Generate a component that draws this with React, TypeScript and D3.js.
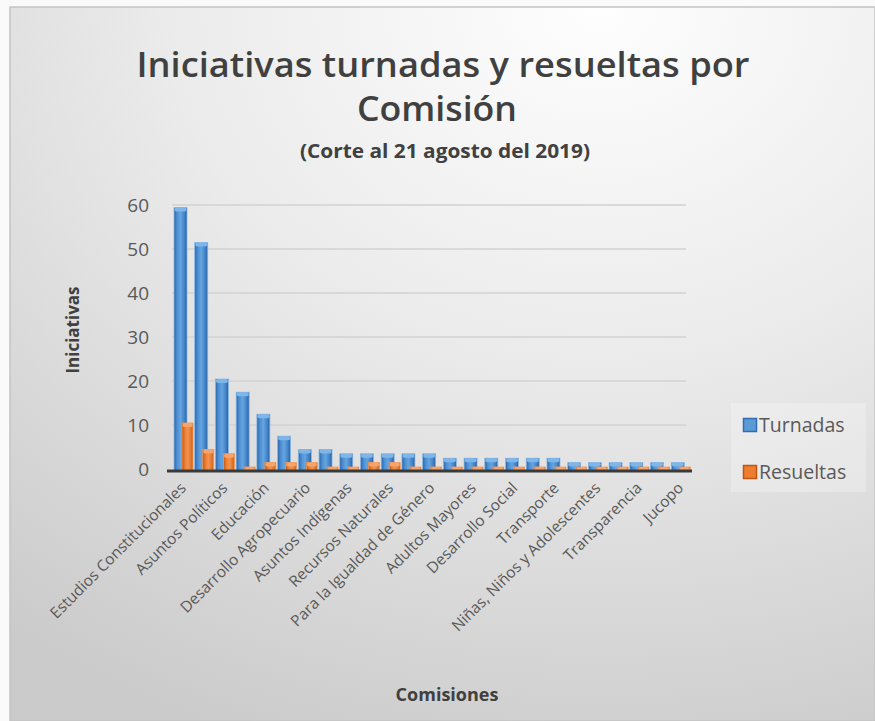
import React from "react";
import * as d3 from "d3";

// every second label is hidden on the axis in the original, so only those are known
const categories = [
  "Estudios Constitucionales", "", "Asuntos Políticos", "", "Educación", "",
  "Desarrollo Agropecuario", "", "Asuntos Indígenas", "", "Recursos Naturales", "",
  "Para la Igualdad de Género", "", "Adultos Mayores", "", "Desarrollo Social", "",
  "Transporte", "", "Niñas, Niños y Adolescentes", "", "Transparencia", "", "Jucopo",
];
const turnadas = [59, 51, 20, 17, 12, 7, 4, 4, 3, 3, 3, 3, 3, 2, 2, 2, 2, 2, 2, 1, 1, 1, 1, 1, 1];
const resueltas = [10, 4, 3, 0, 1, 1, 1, 0, 0, 1, 1, 0, 0, 0, 0, 0, 0, 0, 0, 0, 0, 0, 0, 0, 0];
const yTicks = [0, 10, 20, 30, 40, 50, 60];

const W = 875;
const H = 721;
const font = "'Open Sans', 'Noto Sans', sans-serif";

const App: React.FC = () => {
  const idx = d3.range(categories.length).map(String);
  const x = d3.scaleBand<string>().domain(idx).range([170, 688]);
  const y = d3.scaleLinear().domain([0, 60]).range([469, 205]);
  const floorY = 471;

  const bar = (i: number, v: number, dx: number, w: number, fill: string, cap: string, edge: string, key: string) => {
    const x0 = (x(String(i)) as number) + dx;
    const top = y(v) - 2;
    return (
      <g key={key}>
        <rect x={x0} y={top} width={w} height={floorY - top} fill={fill} stroke={edge} strokeWidth={0.8} />
        <rect x={x0 + 0.5} y={top} width={w - 1} height={4} rx={2} fill={cap} />
      </g>
    );
  };

  return (
    <svg width={W} height={H} style={{ position: "absolute", left: 0, top: 0 }}>
      <defs>
        <radialGradient id="bg" cx="0.68" cy="0" r="1.1">
          <stop offset="0" stopColor="#fefefe" />
          <stop offset="0.45" stopColor="#ebebeb" />
          <stop offset="1" stopColor="#cbcbcb" />
        </radialGradient>
        <linearGradient id="blue" x1="0" x2="1" y1="0" y2="0">
          <stop offset="0" stopColor="#2a65ab" />
          <stop offset="0.25" stopColor="#4f90d2" />
          <stop offset="0.5" stopColor="#65a4df" />
          <stop offset="0.8" stopColor="#4283c8" />
          <stop offset="1" stopColor="#275e9f" />
        </linearGradient>
        <linearGradient id="orange" x1="0" x2="1" y1="0" y2="0">
          <stop offset="0" stopColor="#c4580f" />
          <stop offset="0.3" stopColor="#ef8238" />
          <stop offset="0.55" stopColor="#f39250" />
          <stop offset="1" stopColor="#cf6317" />
        </linearGradient>
      </defs>

      <rect x={0} y={0} width={W} height={H} fill="#fafafa" />
      <rect x={10} y={7} width={W - 10} height={H - 7} fill="url(#bg)" stroke="#c4c4c4" strokeWidth={1.5} />

      <g fill="#404040" fontFamily={font} textAnchor="middle">
        <text x={443} y={77} fontSize={35} fontWeight={600} textLength={613} lengthAdjust="spacingAndGlyphs">
          Iniciativas turnadas y resueltas por
        </text>
        <text x={437} y={121} fontSize={35} fontWeight={600} textLength={160} lengthAdjust="spacingAndGlyphs">
          Comisión
        </text>
        <text x={445} y={158} fontSize={20} fontWeight={700} textLength={290} lengthAdjust="spacingAndGlyphs">
          (Corte al 21 agosto del 2019)
        </text>
      </g>

      {yTicks.slice(1).map((t) => (
        <line key={"g" + t} x1={172} x2={686} y1={y(t)} y2={y(t)} stroke="#d2d2d2" strokeWidth={1.5} />
      ))}
      <g fill="#595959" fontFamily={font} fontSize={19} textAnchor="end">
        {yTicks.map((t) => (
          <text key={"t" + t} x={149} y={y(t)} dy="0.36em">
            {t}
          </text>
        ))}
      </g>

      {turnadas.map((v, i) => bar(i, v, 4, 13, "url(#blue)", "#7fb6ea", "#8ab9e6", "b" + i))}
      {resueltas.map((v, i) => bar(i, v, 12, 11, "url(#orange)", "#f6a46c", "#f29a5c", "o" + i))}

      <line x1={167} x2={692} y1={floorY} y2={floorY} stroke="#3a3a3a" strokeWidth={3} />

      <g fill="#595959" fontFamily={font} fontSize={15.5}>
        {categories.map((c, i) =>
          c ? (
            <text
              key={"c" + i}
              textAnchor="end"
              transform={`translate(${(x(String(i)) as number) + 17},${489}) rotate(-45)`}
            >
              {c}
            </text>
          ) : null
        )}
      </g>

      <text
        transform="translate(79,330) rotate(-90)"
        textAnchor="middle"
        fontFamily={font}
        fontSize={17}
        fontWeight={700}
        fill="#404040"
      >
        Iniciativas
      </text>
      <text x={447} y={701} textAnchor="middle" fontFamily={font} fontSize={18} fontWeight={700} fill="#404040">
        Comisiones
      </text>

      <rect x={731} y={403} width={135} height={89} fill="#ffffff" fillOpacity={0.25} />
      <g fontFamily={font} fontSize={19.5} fill="#595959">
        <rect x={743.5} y={418.5} width={13} height={13} fill="#5b9bd5" stroke="#2f6cb2" strokeWidth={1.5} />
        <text x={759} y={425} dy="0.36em">Turnadas</text>
        <rect x={743.5} y={465.5} width={13} height={13} fill="#ed7d31" stroke="#c05510" strokeWidth={1.5} />
        <text x={759} y={472} dy="0.36em">Resueltas</text>
      </g>
    </svg>
  );
};

export default App;
